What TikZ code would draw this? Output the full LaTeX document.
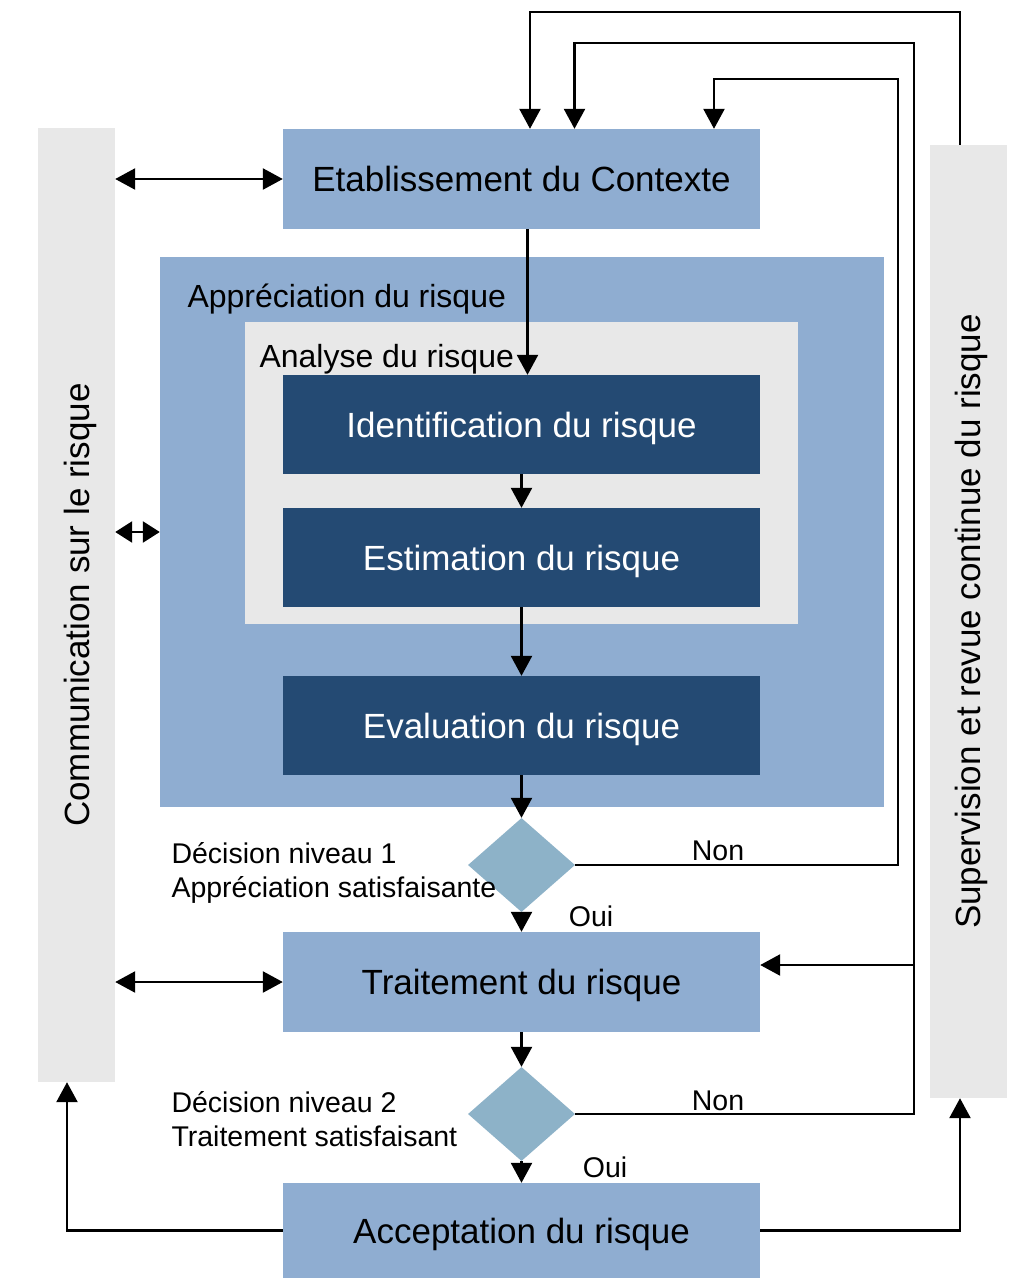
\documentclass[tikz,border=0pt]{standalone}
\usepackage{fontspec}
\setmainfont{Liberation Sans}
\usetikzlibrary{shapes.geometric,arrows.meta}
\definecolor{lblue}{RGB}{143,173,209}
\definecolor{dblue}{RGB}{36,74,115}
\definecolor{lgray}{RGB}{232,232,232}
\definecolor{dia}{RGB}{141,178,200}
\tikzset{
  bigtxt/.style={font=\fontsize{35}{42}\selectfont},
  midtxt/.style={font=\fontsize{32}{38}\selectfont},
  smalltxt/.style={font=\fontsize{28.5}{34}\selectfont},
  lbox/.style={rectangle, fill=lblue, minimum width=477pt, minimum height=100pt, inner sep=0pt, bigtxt, text height=25pt, text depth=0pt},
  dbox/.style={rectangle, fill=dblue, text=white, minimum width=477pt, minimum height=99pt, inner sep=0pt, bigtxt, text height=25pt, text depth=0pt},
  bar/.style={rectangle, fill=lgray, minimum width=77pt, inner sep=0pt},
  decis/.style={diamond, fill=dia, minimum width=107pt, minimum height=94pt, inner sep=0pt},
  arr/.style={line width=2.5pt, -{Triangle[length=20pt,width=21pt]}},
  dbl/.style={line width=2.5pt, {Triangle[length=20pt,width=21pt]}-{Triangle[length=20pt,width=21pt]}},
  dblshort/.style={line width=2.5pt, {Triangle[length=17pt,width=21pt]}-{Triangle[length=17pt,width=21pt]}},
}
\begin{document}
\begin{tikzpicture}[x=1pt,y=-1pt]
\useasboundingbox[fill=white] (0,0) rectangle (1013,1278);
% side bars
\node[bar, minimum height=954pt] (comm) at (76.5,605) {};
\node[bigtxt, rotate=90, text height=25pt, text depth=0pt] (commtxt) at (comm.center) {Communication sur le risque};
\node[bar, minimum height=953pt] (sup) at (968,621.5) {};
\node[bigtxt, rotate=90, text height=25pt, text depth=0pt] (suptxt) at (sup.center) {Supervision et revue continue du risque};
% main boxes
\node[lbox] (ctx) at (521.5,179) {Etablissement du Contexte};
\node[rectangle, fill=lblue, minimum width=724pt, minimum height=550pt, inner sep=0pt] (appr) at (522,532) {};
\node[midtxt, anchor=west] (apprtxt) at (184,299) {Appréciation du risque};
\node[rectangle, fill=lgray, minimum width=553pt, minimum height=302pt, inner sep=0pt] (anal) at (521.5,473) {};
\node[midtxt, anchor=west] (analtxt) at (256,359) {Analyse du risque};
\node[dbox] (ident) at (521.5,424.5) {Identification du risque};
\node[dbox] (estim) at (521.5,557.5) {Estimation du risque};
\node[dbox] (evalu) at (521.5,725.5) {Evaluation du risque};
\node[decis] (d1) at (521.5,865) {};
\node[lbox] (trait) at (521.5,982) {Traitement du risque};
\node[decis] (d2) at (521.5,1114) {};
\node[lbox, minimum height=95pt] (accept) at (521.5,1230.5) {Acceptation du risque};
% labels
\node[smalltxt, anchor=west, align=left] (dec1) at (168,873) {Décision niveau 1\\Appréciation satisfaisante};
\node[smalltxt, anchor=west, align=left] (dec2) at (168,1119) {Décision niveau 2\\Traitement satisfaisant};
\node[smalltxt] (non1) at (718,851) {Non};
\node[smalltxt] (non2) at (718,1101) {Non};
\node[smalltxt] (oui1) at (591,916) {Oui};
\node[smalltxt] (oui2) at (605,1167) {Oui};
% coordinates
\coordinate (r1) at (898,79);
\coordinate (r2) at (914,43);
\coordinate (r3) at (960,12);
\coordinate (b2) at (914,965);
% connectors
\draw[dbl] (comm.east |- ctx.west) -- (ctx.west);
\draw[dblshort] (comm.east |- appr.west) -- (appr.west);
\draw[dbl] (comm.east |- trait.west) -- (trait.west);
\draw[arr] ([xshift=6pt]ctx.south) -- ([xshift=6pt]ident.north);
\draw[arr] (ident.south) -- (estim.north);
\draw[arr] (estim.south) -- (evalu.north);
\draw[arr] (evalu.south) -- (d1.north);
\draw[arr] (d1.south) -- (trait.north);
\draw[arr] (trait.south) -- (d2.north);
\draw[arr] (d2.south) -- (accept.north);
\draw[arr] (d1.east) -| (r1) -| ([xshift=192.5pt]ctx.north);
\draw[arr] (d2.east) -| (r2) -| ([xshift=53pt]ctx.north);
\draw[arr] (b2) -- (b2 -| trait.east);
\draw[arr] ([xshift=-8pt]sup.north) -- (r3) -| ([xshift=8.5pt]ctx.north);
\draw[arr] (accept.west) -| ([xshift=-9.5pt]comm.south);
\draw[arr] (accept.east) -| ([xshift=-8pt]sup.south);
\end{tikzpicture}
\end{document}
